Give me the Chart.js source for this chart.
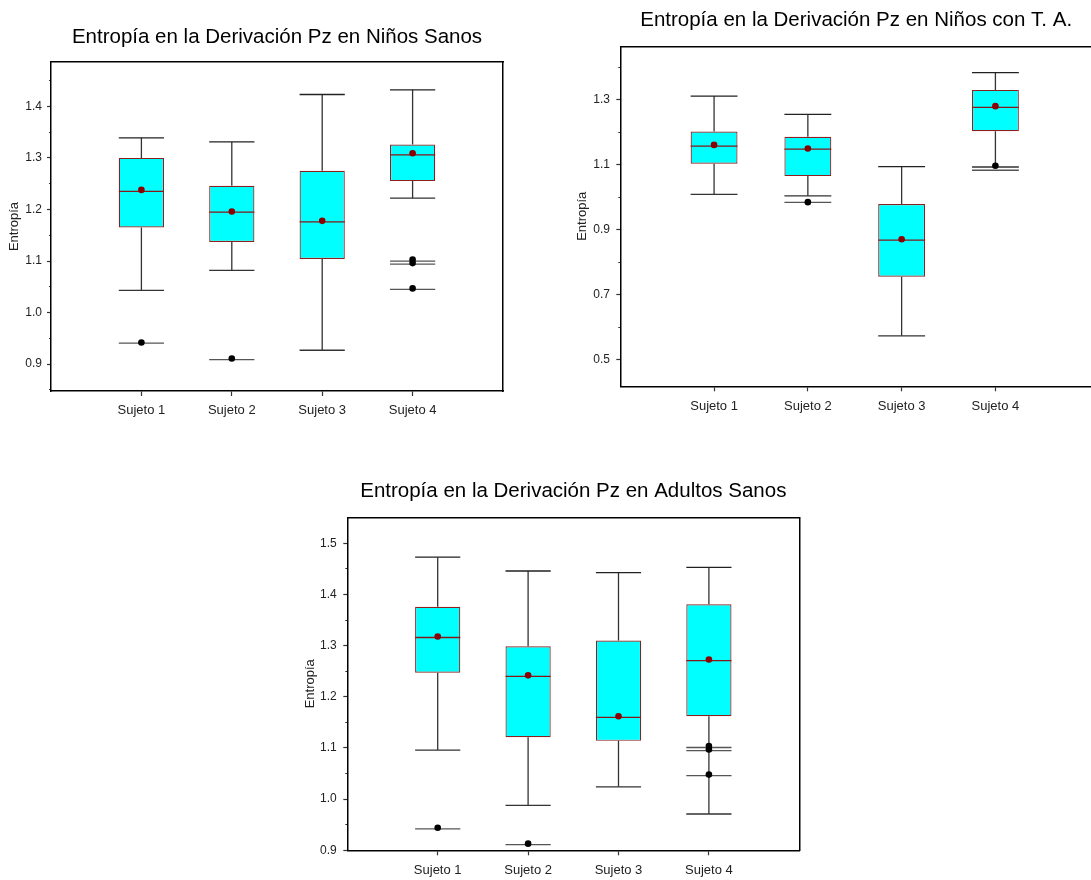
<!DOCTYPE html>
<html lang="es">
<head>
<meta charset="utf-8">
<title>Entropía en la Derivación Pz</title>
<script src="https://cdn.jsdelivr.net/npm/chart.js@4.4.1/dist/chart.umd.min.js"></script>
<style>
    html, body { margin: 0; padding: 0; background: #fff; width: 1091px; height: 880px; overflow: hidden; }
    canvas { position: absolute; }
</style>
</head>
<body>
<canvas id="chart-sanos" width="530" height="430" style="left:0px;top:0px;"></canvas>
<canvas id="chart-ta" width="540" height="430" style="left:560px;top:0px;"></canvas>
<canvas id="chart-adultos" width="540" height="430" style="left:290px;top:450px;"></canvas>
<script>
// --- Data ---
const categories = ['Sujeto 1', 'Sujeto 2', 'Sujeto 3', 'Sujeto 4'];

// Niños Sanos
const sanosMin    = [1.043, 1.082, 0.927, 1.222];
const sanosQ1     = [1.165, 1.137, 1.104, 1.255];
const sanosMedian = [1.235, 1.195, 1.176, 1.306];
const sanosQ3     = [1.300, 1.246, 1.275, 1.326];
const sanosMax    = [1.339, 1.331, 1.423, 1.432];
const sanosMean   = [1.238, 1.196, 1.178, 1.309];
const sanosOutlierDots  = [[0.942], [0.911], [], [1.103, 1.096, 1.047]];
const sanosOutlierLines = [[0.941], [0.909], [], [1.100, 1.094, 1.045]];
const sanosMajorTicks = [0.9, 1.0, 1.1, 1.2, 1.3, 1.4];
const sanosMinorTicks = [0.85, 0.95, 1.05, 1.15, 1.25, 1.35, 1.45];

// Niños con T. A.
const taMin    = [1.009, 1.004, 0.574, 1.093];
const taQ1     = [1.103, 1.065, 0.756, 1.203];
const taMedian = [1.157, 1.148, 0.868, 1.276];
const taQ3     = [1.202, 1.186, 0.979, 1.330];
const taMax    = [1.311, 1.255, 1.094, 1.383];
const taMean   = [1.161, 1.150, 0.871, 1.280];
const taOutlierDots  = [[], [0.985], [], [1.097]];
const taOutlierLines = [[], [0.984], [], [1.083]];
const taMajorTicks = [0.5, 0.7, 0.9, 1.1, 1.3];
const taMinorTicks = [0.6, 0.8, 1.0, 1.2, 1.4];

// Adultos Sanos
const adultosMin    = [1.096, 0.988, 1.024, 0.971];
const adultosQ1     = [1.247, 1.121, 1.114, 1.162];
const adultosMedian = [1.316, 1.240, 1.160, 1.271];
const adultosQ3     = [1.376, 1.299, 1.310, 1.381];
const adultosMax    = [1.473, 1.446, 1.443, 1.453];
const adultosMean   = [1.318, 1.242, 1.162, 1.273];
const adultosOutlierDots  = [[0.944], [0.913], [], [1.104, 1.097, 1.048]];
const adultosOutlierLines = [[0.942], [0.911], [], [1.101, 1.095, 1.046]];
const adultosMajorTicks = [0.9, 1.0, 1.1, 1.2, 1.3, 1.4, 1.5];
const adultosMinorTicks = [0.95, 1.05, 1.15, 1.25, 1.35, 1.45];

Chart.defaults.font.family = '"Liberation Sans", Arial, sans-serif';
Chart.defaults.font.size = 12;
Chart.defaults.color = '#222';

const HALF = 0.25; // half box width, in category units

// --- Helpers ---
function hLines(values) {
    // horizontal segments centred on each category, separated by gaps
    const pts = [];
    values.forEach((list, i) => {
        [].concat(list).forEach(v => {
            pts.push({x: i + 1 - HALF, y: v}, {x: i + 1 + HALF, y: v}, {x: i + 1, y: null});
        });
    });
    return pts;
}

function whiskers(lo, q1, q3, hi) {
    const pts = [];
    categories.forEach((c, i) => {
        pts.push({x: i + 1, y: q3[i]}, {x: i + 1, y: hi[i]}, {x: i + 1, y: null});
        pts.push({x: i + 1, y: q1[i]}, {x: i + 1, y: lo[i]}, {x: i + 1, y: null});
    });
    return pts;
}

function dots(values) {
    const pts = [];
    values.forEach((list, i) => [].concat(list).forEach(v => pts.push({x: i + 1, y: v})));
    return pts;
}

const near = (a, b) => Math.abs(a - b) < 1e-6;

function lineSet(data, color, width, order) {
    return {
        type: 'line', data, borderColor: color, borderWidth: width,
        pointRadius: 0, spanGaps: false, fill: false, tension: 0, order
    };
}

function makeBoxChart(id, cfg) {
    const ctx = document.getElementById(id).getContext('2d');
    const allTicks = cfg.major.concat(cfg.minor).sort((a, b) => a - b);
    return new Chart(ctx, {
        type: 'bar',
        data: {
            datasets: [
                {
                    type: 'bar',
                    data: categories.map((c, i) => ({x: i + 1, y: [cfg.q1[i], cfg.q3[i]]})),
                    backgroundColor: '#00ffff',
                    borderColor: '#8e1f1f',
                    borderWidth: 1.2,
                    borderSkipped: false,
                    categoryPercentage: 1,
                    barPercentage: 0.5,
                    order: 10
                },
                lineSet(whiskers(cfg.min, cfg.q1, cfg.q3, cfg.max), '#333', 1.3, 6),
                lineSet(hLines(cfg.max), '#222', 1.3, 5),
                lineSet(hLines(cfg.min), '#333', 1.3, 5),
                lineSet(hLines(cfg.outlierLines), '#555', 1.3, 5),
                lineSet(hLines(cfg.median), '#861818', 1.3, 4),
                {
                    type: 'scatter', data: dots(cfg.outlierDots), pointRadius: 3.3,
                    pointBackgroundColor: '#000', pointBorderWidth: 0, order: 1
                },
                {
                    type: 'scatter', data: dots(cfg.mean), pointRadius: 3.3,
                    pointBackgroundColor: '#8b0000', pointBorderWidth: 0, order: 0
                }
            ]
        },
        options: {
            responsive: false,
            animation: false,
            events: [],
            devicePixelRatio: 1,
            layout: { padding: {left: 0, right: cfg.padRight, top: 0, bottom: 0} },
            plugins: {
                legend: { display: false },
                tooltip: { enabled: false },
                title: {
                    display: true,
                    text: cfg.title,
                    fullSize: false,
                    color: '#000',
                    font: { size: 20.5, weight: 'normal' },
                    padding: { top: cfg.titleTop, bottom: cfg.titleBottom }
                }
            },
            scales: {
                x: {
                    type: 'linear', min: 0, max: cfg.xMax, offset: false,
                    afterBuildTicks: s => { s.ticks = categories.map((c, i) => ({value: i + 1})); },
                    afterFit: s => { s.height = cfg.xAxisHeight; },
                    ticks: {
                        autoSkip: false, maxRotation: 0, padding: 7,
                        font: { size: 13 }, color: '#222',
                        callback: v => categories[Math.round(v) - 1]
                    },
                    grid: { drawOnChartArea: false, offset: false, tickLength: 5, tickColor: '#333', tickWidth: 1.2 },
                    border: { color: '#000', width: 1.5 }
                },
                y: {
                    type: 'linear', min: cfg.yMin, max: cfg.yMax, beginAtZero: false,
                    afterBuildTicks: s => { s.ticks = allTicks.map(v => ({value: v})); },
                    afterFit: s => { s.width = cfg.yAxisWidth; },
                    ticks: {
                        autoSkip: false, padding: cfg.yTickPad, font: { size: 12 }, color: '#222',
                        callback: v => cfg.major.some(m => near(m, v)) ? v.toFixed(1) : ''
                    },
                    grid: {
                        drawOnChartArea: false, tickLength: 4, tickColor: '#333', tickWidth: 1.2,
                        tickBorderDash: c => (c.tick && cfg.minor.some(m => near(m, c.tick.value))) ? [0, 2, 2, 20] : []
                    },
                    border: { color: '#000', width: 1.5 },
                    title: {
                        display: true, text: 'Entropía', color: '#222',
                        font: { size: 13 }, padding: { top: cfg.yTitlePad, bottom: 0 }
                    }
                },
                // top and right edges of the frame
                x2: {
                    type: 'linear', position: 'top', min: 0, max: cfg.xMax,
                    afterFit: s => { s.height = 0; },
                    ticks: { display: false },
                    grid: { drawOnChartArea: false, drawTicks: false },
                    border: { color: '#000', width: 1.5 }
                },
                y2: {
                    type: 'linear', position: 'right', min: cfg.yMin, max: cfg.yMax,
                    afterFit: s => { s.width = 0; },
                    ticks: { display: false },
                    grid: { drawOnChartArea: false, drawTicks: false },
                    border: { color: '#000', width: 1.5 }
                }
            }
        }
    });
}

// --- Charts ---
makeBoxChart('chart-sanos', {
    title: 'Entropía en la Derivación Pz en Niños Sanos',
    min: sanosMin, q1: sanosQ1, median: sanosMedian, q3: sanosQ3, max: sanosMax, mean: sanosMean,
    outlierDots: sanosOutlierDots, outlierLines: sanosOutlierLines,
    major: sanosMajorTicks, minor: sanosMinorTicks,
    yMin: 0.848, yMax: 1.486, xMax: 5,
    yAxisWidth: 51, yTickPad: 5, yTitlePad: 6.8, padRight: 27,
    titleTop: 24.7, titleBottom: 12.7, xAxisHeight: 39
});

makeBoxChart('chart-ta', {
    title: 'Entropía en la Derivación Pz en Niños con T. A.',
    min: taMin, q1: taQ1, median: taMedian, q3: taQ3, max: taMax, mean: taMean,
    outlierDots: taOutlierDots, outlierLines: taOutlierLines,
    major: taMajorTicks, minor: taMinorTicks,
    yMin: 0.419, yMax: 1.464, xMax: 5.03,
    yAxisWidth: 60.3, yTickPad: 6.3, yTitlePad: 14.5, padRight: 8,
    titleTop: 7.7, titleBottom: 14.0, xAxisHeight: 43.7
});

makeBoxChart('chart-adultos', {
    title: 'Entropía en la Derivación Pz en Adultos Sanos',
    min: adultosMin, q1: adultosQ1, median: adultosMedian, q3: adultosQ3, max: adultosMax, mean: adultosMean,
    outlierDots: adultosOutlierDots, outlierLines: adultosOutlierLines,
    major: adultosMajorTicks, minor: adultosMinorTicks,
    yMin: 0.9, yMax: 1.551, xMax: 5,
    yAxisWidth: 57.3, yTickPad: 6.6, yTitlePad: 12.8, padRight: 30.7,
    titleTop: 29.4, titleBottom: 13.3, xAxisHeight: 29.7
});
</script>
</body>
</html>
